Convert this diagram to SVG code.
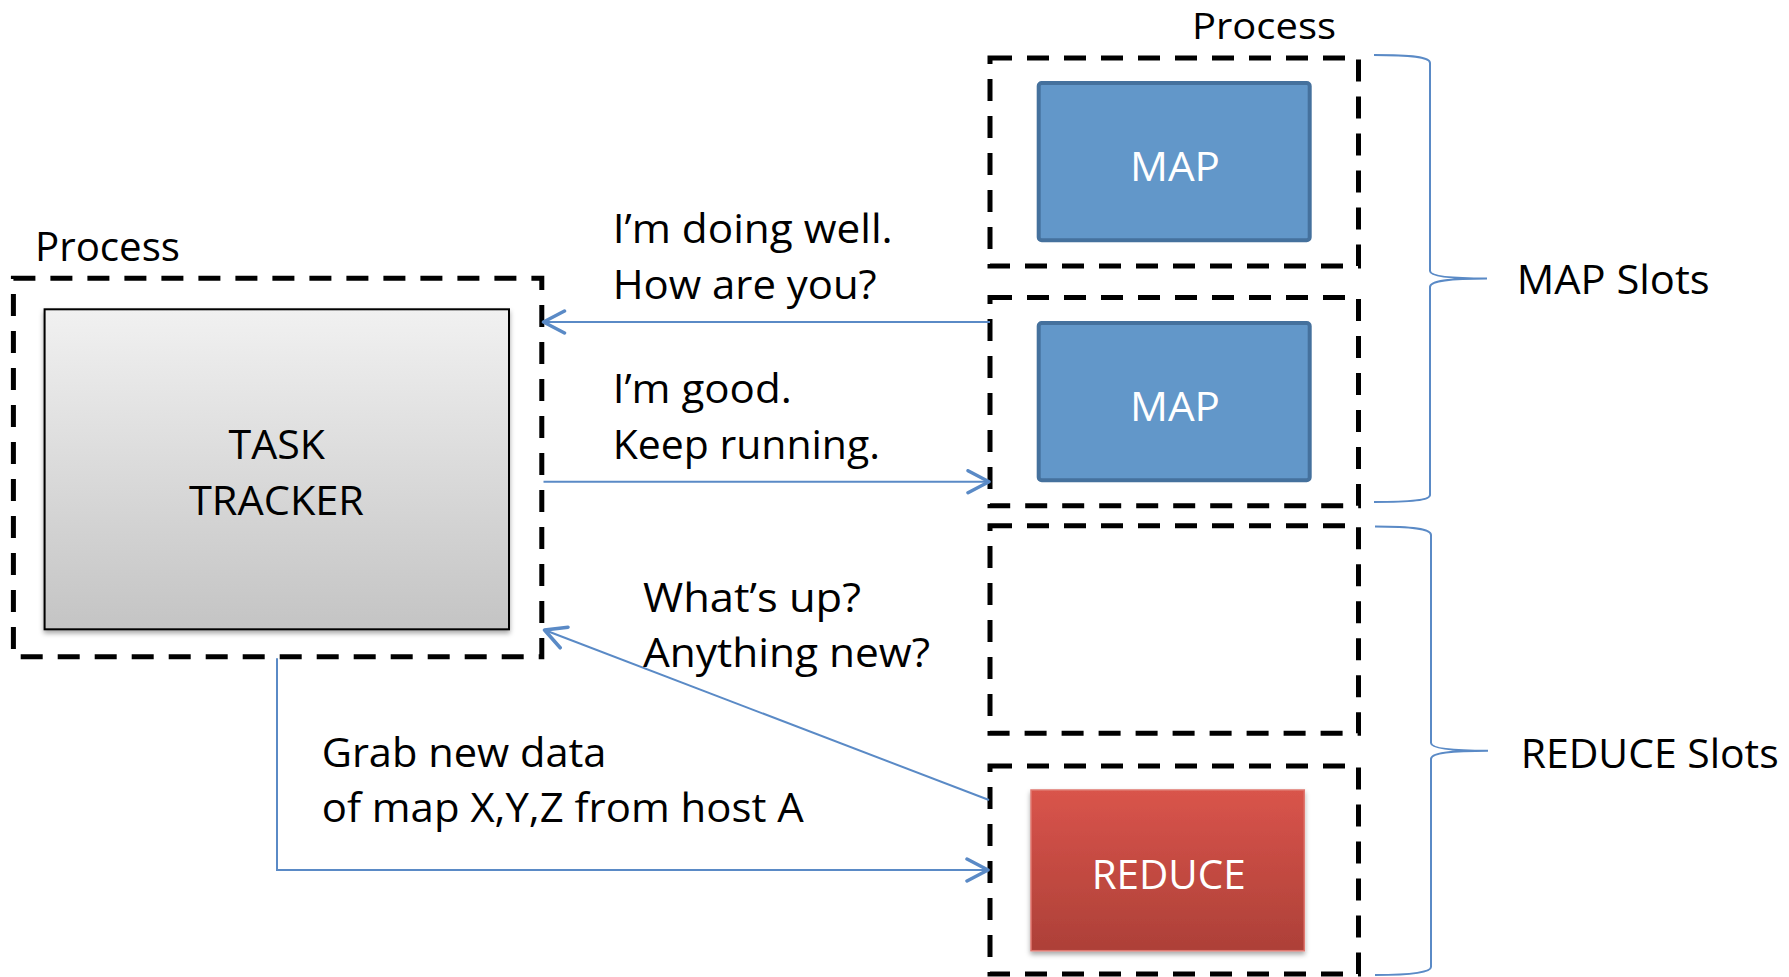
<svg xmlns="http://www.w3.org/2000/svg" width="1789" height="977" viewBox="0 0 1789 977">
<style>
.t{font-family:"Open Sans","Noto Sans","Liberation Sans",sans-serif;font-size:40px;fill:#000}
.w{fill:#fff}
.dash{fill:none;stroke:#000;stroke-width:5;stroke-dasharray:22 15}
.conn{fill:none;stroke:#5A8AC6;stroke-width:2}
.brace{fill:none;stroke:#5A8AC6;stroke-width:2}
</style>
<defs>
<linearGradient id="gGray" x1="0" y1="0" x2="0" y2="1">
<stop offset="0" stop-color="#F1F1F1"/>
<stop offset="1" stop-color="#C4C4C4"/>
</linearGradient>
<linearGradient id="gRed" x1="0" y1="0" x2="0" y2="1">
<stop offset="0" stop-color="#D9544B"/>
<stop offset="1" stop-color="#AD4038"/>
</linearGradient>
<filter id="sh" x="-10%" y="-10%" width="120%" height="130%">
<feDropShadow dx="0" dy="3" stdDeviation="2.5" flood-color="#000" flood-opacity="0.35"/>
</filter>
<marker id="arr" viewBox="0 0 26 26" refX="23" refY="13" markerWidth="26" markerHeight="26" markerUnits="userSpaceOnUse" orient="auto">
<path d="M2,2 L23,13 L2,24" fill="none" stroke="#5A8AC6" stroke-width="3.5" stroke-linecap="round" stroke-linejoin="round"/>
</marker>
</defs>
<rect width="1789" height="977" fill="#fff"/>

<g id="tasktracker-process">
<rect class="dash" x="13.4" y="278.3" width="528.4" height="378.5"/>
<text class="t" x="35" y="261" textLength="145" lengthAdjust="spacingAndGlyphs">Process</text>
</g>
<g id="tasktracker">
<rect x="44.6" y="309.3" width="464.4" height="320" fill="url(#gGray)" stroke="#000" stroke-width="2" filter="url(#sh)"/>
<text class="t" x="228.6" y="459" textLength="96.4" lengthAdjust="spacingAndGlyphs">TASK</text>
<text class="t" x="189" y="515" textLength="175" lengthAdjust="spacingAndGlyphs">TRACKER</text>
</g>

<g id="map-process-label">
<text class="t" x="1192" y="39" style="font-size:36px" textLength="144" lengthAdjust="spacingAndGlyphs">Process</text>
</g>
<g id="slot1">
<rect class="dash" x="990" y="58" width="368.5" height="208"/>
<rect x="1038.7" y="83" width="271" height="157.3" rx="3" fill="#6297C9" stroke="#45719D" stroke-width="4"/>
<text class="t w" x="1130" y="181" textLength="90" lengthAdjust="spacingAndGlyphs">MAP</text>
</g>
<g id="slot2">
<rect class="dash" x="990" y="297.5" width="368.5" height="208.2"/>
<rect x="1038.7" y="323" width="271" height="157.3" rx="3" fill="#6297C9" stroke="#45719D" stroke-width="4"/>
<text class="t w" x="1130" y="421" textLength="90" lengthAdjust="spacingAndGlyphs">MAP</text>
</g>
<g id="slot3">
<rect class="dash" x="990" y="525.7" width="368.5" height="207.6"/>
</g>
<g id="slot4">
<rect class="dash" x="990" y="766" width="368.5" height="208"/>
<rect x="1031" y="790" width="273.3" height="160.7" fill="url(#gRed)" stroke="#E07870" stroke-width="1.5" filter="url(#sh)"/>
<text class="t w" x="1091.7" y="889" textLength="154" lengthAdjust="spacingAndGlyphs">REDUCE</text>
</g>

<g id="map-slots">
<path class="brace" d="M1374,55 C1412,55 1430,57 1430,63 L1430,271 C1430,276 1448,278.5 1487,278.5 M1487,278.5 C1448,278.5 1430,281 1430,287 L1430,495 C1430,500 1412,502 1374,502"/>
<text class="t" x="1516.7" y="294" textLength="193" lengthAdjust="spacingAndGlyphs">MAP Slots</text>
</g>
<g id="reduce-slots">
<path class="brace" d="M1375,526.5 C1413,526.5 1431,529 1431,535 L1431,743 C1431,748 1449,750.8 1488,750.8 M1488,750.8 C1449,750.8 1431,753 1431,759 L1431,967 C1431,972 1413,975 1375,975"/>
<text class="t" x="1520.7" y="767.6" textLength="258" lengthAdjust="spacingAndGlyphs">REDUCE Slots</text>
</g>

<g id="connectors">
<line class="conn" x1="990" y1="322" x2="543.5" y2="322" marker-end="url(#arr)"/>
<line class="conn" x1="543.5" y1="481.7" x2="989" y2="481.7" marker-end="url(#arr)"/>
<line class="conn" x1="989" y1="800" x2="544.5" y2="630" marker-end="url(#arr)"/>
<polyline class="conn" points="277,658.3 277,870 988,870" marker-end="url(#arr)"/>
</g>

<g id="labels">
<text class="t" x="612.7" y="242.7" textLength="280" lengthAdjust="spacingAndGlyphs">I’m doing well.</text>
<text class="t" x="612.7" y="298.7" textLength="264" lengthAdjust="spacingAndGlyphs">How are you?</text>
<text class="t" x="612.7" y="402.7" textLength="179" lengthAdjust="spacingAndGlyphs">I’m good.</text>
<text class="t" x="612.7" y="459.3" textLength="267.3" lengthAdjust="spacingAndGlyphs">Keep running.</text>
<text class="t" x="643" y="611.7" textLength="218" lengthAdjust="spacingAndGlyphs">What’s up?</text>
<text class="t" x="643" y="667.3" textLength="287" lengthAdjust="spacingAndGlyphs">Anything new?</text>
<text class="t" x="321.7" y="766.7" textLength="284.7" lengthAdjust="spacingAndGlyphs">Grab new data</text>
<text class="t" x="321.7" y="821.7" textLength="482" lengthAdjust="spacingAndGlyphs">of map X,Y,Z from host A</text>
</g>
</svg>
